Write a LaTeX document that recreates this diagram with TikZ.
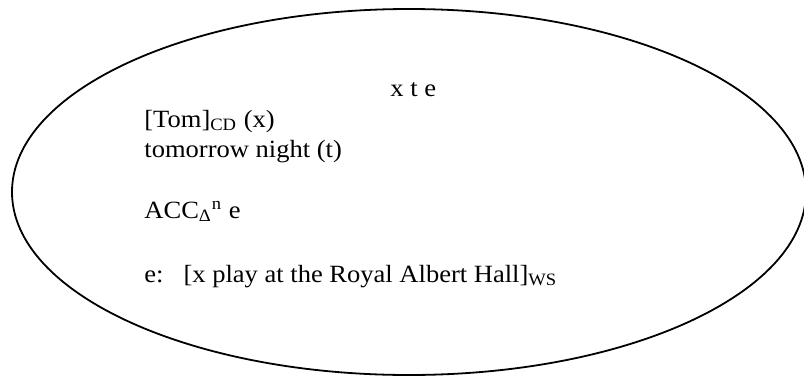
\documentclass[tikz,border=0pt]{standalone}
\usepackage{fontspec}
\setmainfont{Liberation Serif}[FakeStretch=1.07]
\usetikzlibrary{shapes.geometric}

\begin{document}
\begin{tikzpicture}[
  x=0.5pt,y=-0.5pt,
  drs/.style={ellipse,draw,line width=0.9pt,minimum width=397pt,minimum height=183pt,inner sep=0pt},
  cond/.style={anchor=base west,inner sep=0pt,font=\fontsize{12.4}{14}\selectfont}
]
  \useasboundingbox (0,0) rectangle (804,376);
  \node[drs] (box) at (409,192) {};

  % universe and conditions
  \node[cond] (univ) at (390,96) {x t e};
  \node[cond] (tom) at (144,127) {[Tom]\textsubscript{CD} (x)};
  \node[cond] (night) at (144,157) {tomorrow night (t)};
  \node[cond] (acc) at (144,218) {ACC\textsubscript{Δ}\textsuperscript{n} e};
  \node[cond] (event) at (144,282) {e:\hspace{10pt}[x play at the Royal Albert Hall]\textsubscript{WS}};
\end{tikzpicture}
\end{document}
